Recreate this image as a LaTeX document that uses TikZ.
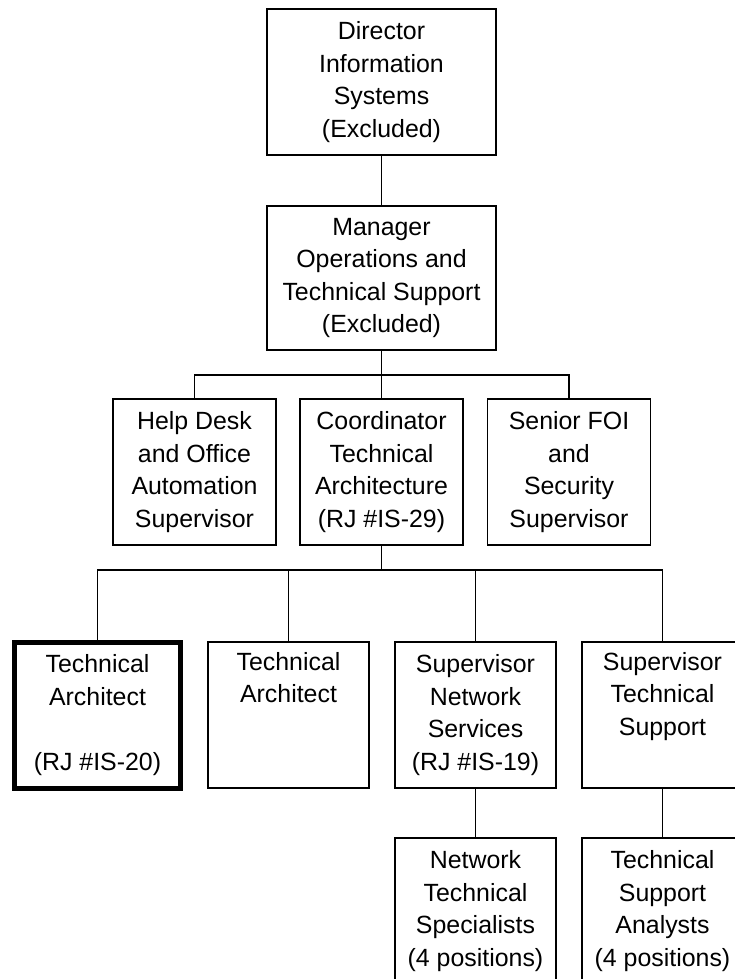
\documentclass[tikz,border=0pt]{standalone}
\usepackage{fontspec}
\setmainfont{Liberation Sans}
\usetikzlibrary{positioning}

\begin{document}
\begin{tikzpicture}[x=1bp,y=-1bp,
	  every node/.style={align=center,text=black,inner sep=0pt,outer sep=0pt,font=\fontsize{25}{32.5}\selectfont},
	  post/.style={draw,line width=1.6bp,anchor=north,minimum height=146bp},
	  boss/.style={post,minimum width=229bp},
	  unit/.style={post,minimum width=163bp},
	  staff/.style={post,minimum width=161bp},
	  chosen/.style={staff,line width=5bp,minimum width=165bp},
	  link/.style={draw,line width=1.6bp}]

	  \useasboundingbox (0,0) rectangle (735,979);

	  % Top of the chart
	  \node[boss] (director) at (381.5,9) {Director\\Information\\Systems\\(Excluded)};
	  \node[boss,minimum height=144bp] (manager) at (381.5,206) {Manager\\Operations and\\Technical Support\\(Excluded)};

	  % Units under the manager
	  \node[unit] (helpdesk) at (194.5,399) {Help Desk\\and Office\\Automation\\Supervisor};
	  \node[unit] (coordinator) at (381.5,399) {Coordinator\\Technical\\Architecture\\(RJ \#IS-29)};
	  \node[unit] (foi) at (569,399) {Senior FOI\\and\\Security\\Supervisor};

	  % Staff under the coordinator
	  \node[chosen] (architectA) at (97.5,642) {Technical\\Architect\\\strut\\(RJ \#IS-20)};
	  \node[staff] (architectB) at (288.5,642) {Technical\\Architect\\\strut\\\strut};
	  \node[staff] (network) at (475.5,642) {Supervisor\\Network\\Services\\(RJ \#IS-19)};
	  \node[staff] (support) at (662.5,642) {Supervisor\\Technical\\Support\\\strut};
	  \node[staff] (specialists) at (475.5,838) {Network\\Technical\\Specialists\\(4 positions)};
	  \node[staff] (analysts) at (662.5,838) {Technical\\Support\\Analysts\\(4 positions)};

	  % Reporting lines
	  \draw[link] (director) -- (manager);
	  \draw[link] (manager.south) -- ++(0,25) coordinate (split1);
	  \draw[link] (split1) -| (helpdesk.north);
	  \draw[link] (split1) -| (foi.north);
	  \draw[link] (split1) -- (coordinator.north);
	  \draw[link] (coordinator.south) -- ++(0,25) coordinate (split2);
	  \draw[link] (split2) -| (architectA.north);
	  \draw[link] (split2) -| (architectB.north);
	  \draw[link] (split2) -| (network.north);
	  \draw[link] (split2) -| (support.north);
	  \draw[link] (network) -- (specialists);
	  \draw[link] (support) -- (analysts);
\end{tikzpicture}
\end{document}
